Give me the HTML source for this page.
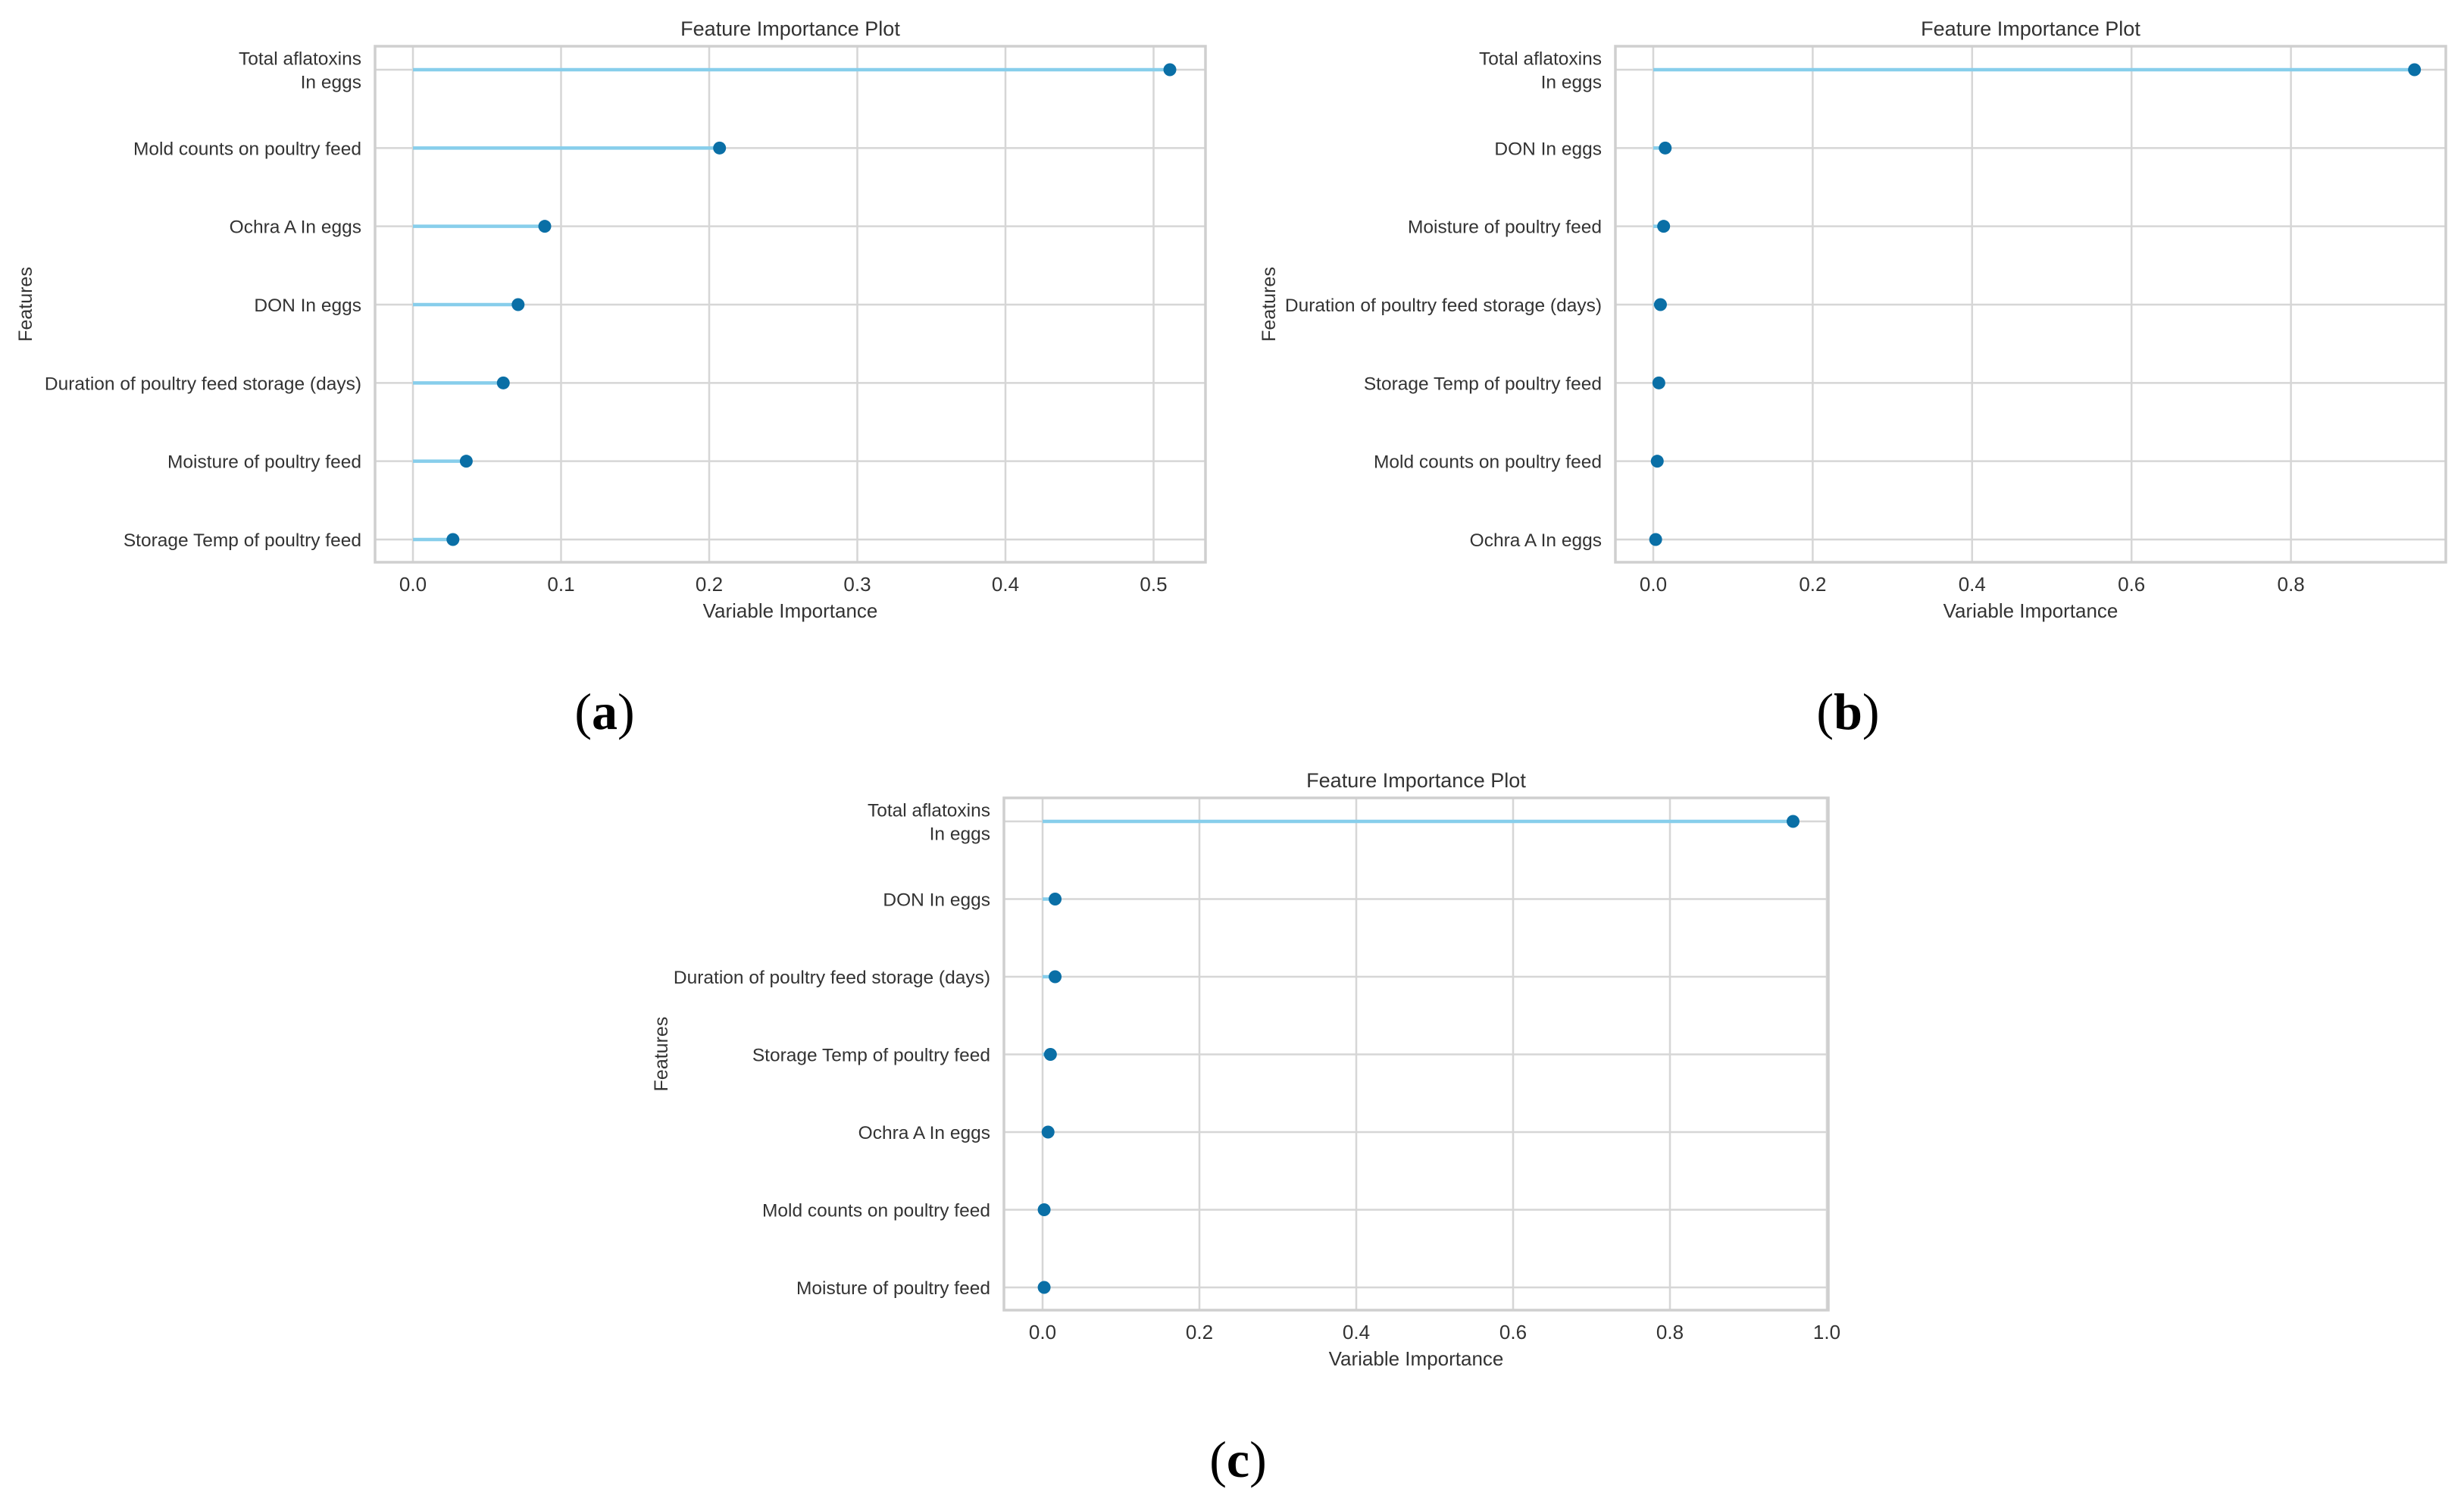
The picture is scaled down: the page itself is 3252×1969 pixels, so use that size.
<!DOCTYPE html>
<html><head><meta charset="utf-8"><style>
html,body{margin:0;padding:0;background:#fff;}
svg{display:block;font-family:"Liberation Sans",Arial,sans-serif;}
</style></head><body>
<svg id="fig" width="3252" height="1969" viewBox="0 0 3252 1969"></svg>
<script>
const featuresA = ["Total aflatoxins\nIn eggs","Mold counts on poultry feed","Ochra A In eggs","DON In eggs","Duration of poultry feed storage (days)","Moisture of poultry feed","Storage Temp of poultry feed"];
const valuesA = [0.511,0.207,0.089,0.071,0.061,0.036,0.027];
const ticksA = [0.0,0.1,0.2,0.3,0.4,0.5];
const tickLabelsA = ["0.0","0.1","0.2","0.3","0.4","0.5"];

const featuresB = ["Total aflatoxins\nIn eggs","DON In eggs","Moisture of poultry feed","Duration of poultry feed storage (days)","Storage Temp of poultry feed","Mold counts on poultry feed","Ochra A In eggs"];
const valuesB = [0.955,0.015,0.013,0.009,0.007,0.005,0.003];
const ticksB = [0.0,0.2,0.4,0.6,0.8];
const tickLabelsB = ["0.0","0.2","0.4","0.6","0.8"];

const featuresC = ["Total aflatoxins\nIn eggs","DON In eggs","Duration of poultry feed storage (days)","Storage Temp of poultry feed","Ochra A In eggs","Mold counts on poultry feed","Moisture of poultry feed"];
const valuesC = [0.957,0.016,0.016,0.010,0.007,0.002,0.002];
const ticksC = [0.0,0.2,0.4,0.6,0.8,1.0];
const tickLabelsC = ["0.0","0.2","0.4","0.6","0.8","1.0"];

const NS="http://www.w3.org/2000/svg";
const svg=document.getElementById('fig');
function mk(tag,attrs,parent){const e=document.createElementNS(NS,tag);for(const k in attrs)e.setAttribute(k,attrs[k]);(parent||svg).appendChild(e);return e;}

function panel(id,box,x0,xPerUnit,features,values,ticks,tickLabels,letter,letterPos){
  const g=mk('g',{});
  
  
  const xs=v=>x0+v*xPerUnit;
  const rowTop=box.top+31, rowStep=(box.bottom-box.top-61)/(features.length-1);
  const ys=i=>rowTop+i*rowStep;
  ticks.forEach((t,i)=>{
    const l=mk('line',{x1:xs(t),x2:xs(t),y1:box.top,y2:box.bottom,stroke:'#d6d6d6','stroke-width':2.5},g);
    
    
    const tx=mk('text',{x:xs(t),y:box.bottom+38,'font-size':26,fill:'#333','text-anchor':'middle'},g);
    tx.textContent=tickLabels[i];
    
    
  });
  features.forEach((f,i)=>{
    const l=mk('line',{x1:box.left,x2:box.right,y1:ys(i),y2:ys(i),stroke:'#d6d6d6','stroke-width':2.5},g);
    
    
    const lines=f.split('\n');
    const tx=mk('text',{x:box.left-18,y:ys(i)+9-(lines.length-1)*15.5,'font-size':24.5,fill:'#333','text-anchor':'end'},g);
    lines.forEach((ln,j)=>{const ts=mk('tspan',{x:box.left-18,dy:j?31:0},tx);ts.textContent=ln;});
    
    
  });
  const fr=mk('rect',{x:box.left,y:box.top,width:box.right-box.left,height:box.bottom-box.top,fill:'none',stroke:'#cfcfcf','stroke-width':3.5},g);
  
  
  values.forEach((v,i)=>{
    const s=mk('line',{x1:xs(0),x2:xs(v),y1:ys(i),y2:ys(i),stroke:'#87ceeb','stroke-width':4.5},g);
    
    
    const c=mk('circle',{cx:xs(v),cy:ys(i),r:8.5,fill:'#0a6fa6'},g);
    
    
  });
  const cx=(box.left+box.right)/2;
  const t=mk('text',{x:cx,y:box.top-14,'font-size':27,fill:'#333','text-anchor':'middle'},g);
  t.textContent='Feature Importance Plot';
  
  
  const xl=mk('text',{x:cx,y:box.bottom+73,'font-size':26,fill:'#333','text-anchor':'middle'},g);
  xl.textContent='Variable Importance';
  
  
  const fy=(box.top+box.bottom)/2;
  const yl=mk('text',{x:box.ylabX,y:fy,'font-size':25,fill:'#333','text-anchor':'middle',transform:`rotate(-90 ${box.ylabX} ${fy})`},g);
  yl.textContent='Features';
  
  
  const lt=mk('text',{x:letterPos[0],y:letterPos[1],'font-size':68,'font-family':'"Liberation Serif",serif','text-anchor':'middle',fill:'#000'},g);
  lt.innerHTML='(<tspan font-weight="bold">'+letter+'</tspan>)';
  
  
}
panel('a',{left:495,right:1591,top:61,bottom:742,ylabX:42},545,1955,featuresA,valuesA,ticksA,tickLabelsA,'a',[798,962]);
panel('b',{left:2132,right:3228,top:61,bottom:742,ylabX:1683},2182,1052,featuresB,valuesB,ticksB,tickLabelsB,'b',[2439,962]);
panel('c',{left:1325,right:2413,top:1053,bottom:1729,ylabX:881},1376,1035,featuresC,valuesC,ticksC,tickLabelsC,'c',[1634,1949]);
</script>
</body></html>
